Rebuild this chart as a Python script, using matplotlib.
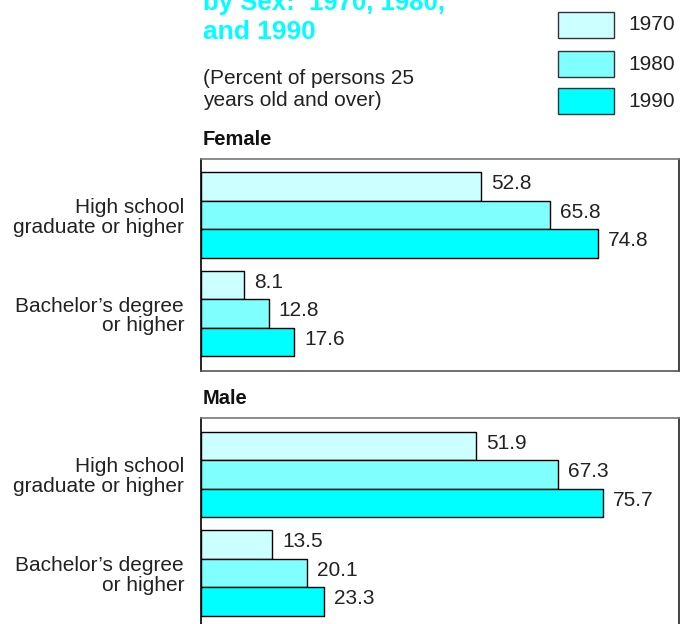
import matplotlib
matplotlib.use("Agg")
import matplotlib.pyplot as plt
from matplotlib.patches import Rectangle

# ---- data ----
years = ["1970", "1980", "1990"]
categories = ["High school\ngraduate or higher", "Bachelor\u2019s degree\nor higher"]
female_hs = [52.8, 65.8, 74.8]
female_ba = [8.1, 12.8, 17.6]
male_hs = [51.9, 67.3, 75.7]
male_ba = [13.5, 20.1, 23.3]
colors = ["#CCFFFF", "#80FFFF", "#00FFFF"]

plt.rcParams["font.family"] = ["Liberation Sans", "DejaVu Sans"]

W, H = 688, 624
fig = plt.figure(figsize=(W / 100, H / 100), dpi=100)

def fx(px):
    return px / W

def fy(py):
    return 1 - py / H

# ---- titles ----
fig.text(fx(203), fy(10), "by Sex:  1970, 1980,", color="#00FFFF", fontsize=18.5,
         fontweight="bold", va="baseline", ha="left")
fig.text(fx(203), fy(39), "and 1990", color="#00FFFF", fontsize=19,
         fontweight="bold", va="baseline", ha="left")
fig.text(fx(203), fy(83.5), "(Percent of persons 25", color="#222222", fontsize=15,
         va="baseline", ha="left")
fig.text(fx(203), fy(106.5), "years old and over)", color="#222222", fontsize=15,
         va="baseline", ha="left")

# ---- legend ----
leg_tops = [11.7, 51, 88.3]
for yr, c, top in zip(years, colors, leg_tops):
    fig.patches.append(Rectangle((fx(558.3), fy(top + 26)), fx(614) - fx(558.3),
                                 26 / H, transform=fig.transFigure,
                                 facecolor=c, edgecolor="#333333", lw=1.0))
    fig.text(fx(628), fy(top + 13), yr, fontsize=15, color="#222222",
             va="center", ha="left")

# ---- panels ----
h = 1.0
gap = 0.456
hs_pos = [0, 1, 2]
ba_pos = [2 + h + gap + i for i in range(3)]
ylim = (ba_pos[-1] + 0.5 + 0.5, -0.5 - 0.485)

def panel(top_px, title, hs, ba):
    height_px = 212.2
    ax = fig.add_axes([fx(200.7), fy(top_px + height_px),
                       fx(678.7) - fx(200.7), height_px / H])
    for i in range(3):
        ax.barh(hs_pos[i], hs[i], height=h, color=colors[i], edgecolor="black",
                lw=1.0)
        ax.barh(ba_pos[i], ba[i], height=h, color=colors[i], edgecolor="black",
                lw=1.0)
        for pos, v in ((hs_pos[i], hs[i]), (ba_pos[i], ba[i])):
            ax.annotate(f"{v}", xy=(v, pos), xytext=(7.2, 2), textcoords="offset points",
                        va="center", ha="left", fontsize=15, color="#222222")
    ax.set_xlim(0, 90)
    ax.set_ylim(*ylim)
    ax.set_xticks([])
    ax.set_yticks([1, ba_pos[1]])
    ax.set_yticklabels(categories, fontsize=15, color="#222222")
    for lab in ax.get_yticklabels():
        lab.set_multialignment("right")
        lab.set_linespacing(1.05)
    ax.tick_params(axis="y", length=0, pad=12)
    ax.spines["left"].set_color("black")
    ax.spines["right"].set_color("#222222")
    ax.spines["top"].set_color("#777777")
    ax.spines["bottom"].set_color("#555555")
    for s in ax.spines.values():
        s.set_linewidth(1.2)
    fig.text(fx(203), fy(top_px - 13.5), title, fontsize=14.5, fontweight="bold",
             color="#111111", va="baseline", ha="left")
    return ax

panel(158.5, "Female", female_hs, female_ba)
panel(417.7, "Male", male_hs, male_ba)

fig.savefig("out.png", dpi=100)
